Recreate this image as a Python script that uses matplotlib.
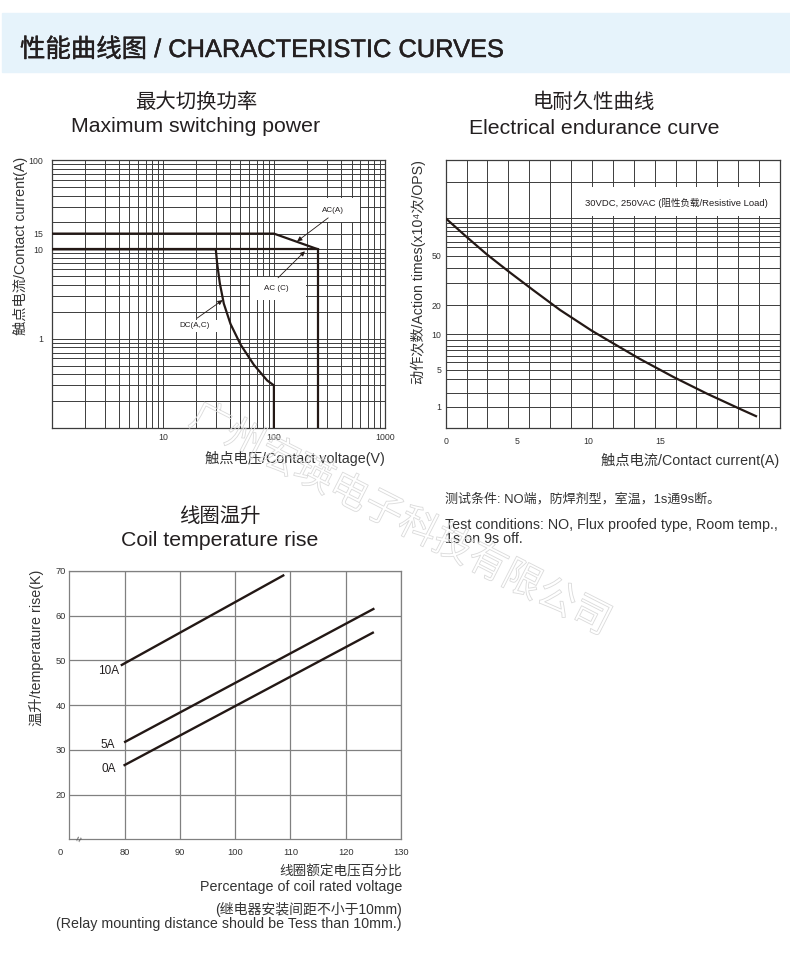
import numpy as np
import matplotlib
matplotlib.use('Agg')
import matplotlib.pyplot as plt
import matplotlib.ticker as ticker
import matplotlib.patheffects as pe
from matplotlib.patches import Rectangle

# =================================================================
# DATA
# =================================================================
# maximum switching power: contact voltage (V) / contact current (A)
AC_A_V = [1, 100, 250]
AC_A_I = [15, 15, 10]
AC_C_V = [1, 250, 250]
AC_C_I = [10, 10, 0.1]
DC_V = [1, 30, 30.8, 32.6, 35.4, 40.7, 50.1, 66.0, 87.1, 100, 100]
DC_I = [10, 10, 7.05, 4.17, 2.47, 1.46, 0.86, 0.51, 0.34, 0.3, 0.1]
SW_XTICKS = [10, 100, 1000]
SW_YTICKS = [1, 10, 15, 100]

# electrical endurance: contact current (A) / action times (x10^4)
END_I = [0, 1.47, 2.89, 4.5, 6.11, 8.0, 10.22, 11.66, 13.6, 15.94, 18.27, 20.6, 21.72]
END_N = [100, 70.9, 51.4, 36.7, 26.5, 17.8, 10.9, 8.48, 6.19, 3.68, 1.78, 0.91, 0.67]
# the printed y axis is not a true log axis: value -> height on the axis
END_SCALE_VAL = [0.4, 1, 5, 10, 20, 50, 100, 200, 300]
END_SCALE_POS = [0, 0.0805, 0.2173, 0.3503, 0.4595, 0.6422, 0.7827, 0.9191, 1.0]
END_YTICKS = [1, 5, 10, 20, 50]
END_YGRID = [1.8, 3.4, 5.8, 6.6, 7.4, 8, 9, 30, 40, 59, 65, 72, 79, 85, 92, 100, 200]
END_XTICKS = [0, 5, 10, 15]
END_XMAX = 23.4

# coil temperature rise: % of rated coil voltage / rise (K)
COIL_LABELS = ['10A', '5A', '0A']
COIL_V = [[79.5, 108.7], [80.1, 125.0], [80.0, 124.9]]
COIL_T = [[49.0, 69.0], [31.8, 61.5], [26.6, 56.2]]
COIL_LABEL_XY = [(77.05, 47.6), (76.9, 31.0), (77.2, 25.65)]
COIL_XTICKS = [80, 90, 100, 110, 120, 130]
COIL_YTICKS = [20, 30, 40, 50, 60, 70]

# =================================================================
# LAYOUT HELPERS (pixel positions on a 790x977 canvas)
# =================================================================
W, H = 790, 977
plt.rcParams['font.family'] = ['Liberation Sans', 'Noto Sans CJK SC', 'DejaVu Sans']
TXT = '#231f20'
LAB = '#333333'

fig = plt.figure(figsize=(W / 100, H / 100), dpi=100)


def fpx(x, y):
    return x / W, 1 - y / H


def add_ax(l, t, r, b):
    return fig.add_axes([l / W, 1 - b / H, (r - l) / W, (b - t) / H])


def ftext(x, y, s, size, **kw):
    kw.setdefault('ha', 'center')
    kw.setdefault('va', 'center')
    return fig.text(*fpx(x, y), s, fontsize=size, color=kw.pop('color', TXT), **kw)


# header band
fig.patches.append(Rectangle((2 / W, 1 - 72 / H), 788 / W, 59 / H,
                             transform=fig.transFigure, color='#e6f3fb', zorder=0))
ftext(20, 50, '性能曲线图 / CHARACTERISTIC CURVES', 18.3, ha='left',
      path_effects=[pe.withStroke(linewidth=0.3, foreground=TXT)])

# =================================================================
# 1. MAXIMUM SWITCHING POWER
# =================================================================
ax1 = add_ax(51.7, 160, 385, 428)
ax1.set_xscale('log')
ax1.set_yscale('log')
ax1.set_xlim(1, 1000)
ax1.set_ylim(0.1, 100)
ax1.set_axisbelow(True)
ax1.set_xticks(SW_XTICKS)
ax1.set_xticklabels([str(v) for v in SW_XTICKS])
ax1.set_yticks(SW_YTICKS)
ax1.set_yticklabels([str(v) for v in SW_YTICKS])
ax1.xaxis.set_minor_locator(ticker.LogLocator(subs=np.arange(2, 10)))
ax1.yaxis.set_minor_locator(ticker.LogLocator(subs=np.arange(2, 10)))
ax1.xaxis.set_minor_formatter(ticker.NullFormatter())
ax1.yaxis.set_minor_formatter(ticker.NullFormatter())
ax1.grid(which='both', color='#3c3c3c', lw=0.7)
ax1.tick_params(which='both', length=0, labelsize=6.3, labelcolor=LAB)
ax1.tick_params(axis='x', pad=3.5)
ax1.tick_params(axis='y', pad=6)
for sp in ax1.spines.values():
    sp.set_color('#3c3c3c')
    sp.set_linewidth(0.9)

ax1.plot(AC_A_V, AC_A_I, color='#231815', lw=1.6, zorder=3)
ax1.plot(AC_C_V, AC_C_I, color='#231815', lw=1.6, zorder=3)
ax1.plot(DC_V, DC_I, color='#231815', lw=1.6, zorder=3)

# white label boxes over the grid
for x0, y0, w, h in [(0.769, 0.77, 0.155, 0.09), (0.595, 0.478, 0.168, 0.085),
                     (0.364, 0.358, 0.132, 0.045)]:
    ax1.add_patch(Rectangle((x0, y0), w, h, transform=ax1.transAxes,
                            facecolor='white', edgecolor='none', zorder=1))

arrow = dict(arrowstyle='-|>', color='#231815', lw=0.6, mutation_scale=7,
             shrinkA=0, shrinkB=0)
ax1.annotate('', xy=(162, 12.3), xytext=(308, 22.5), arrowprops=arrow, zorder=4)
ax1.text(342, 27.1, 'AC(A)', fontsize=5.8, ha='center', va='center', color=TXT, zorder=4)
ax1.annotate('', xy=(190, 9.5), xytext=(109, 4.8), arrowprops=arrow, zorder=4)
ax1.text(106, 3.66, 'AC (C)', fontsize=5.8, ha='center', va='center', color=TXT, zorder=4)
ax1.annotate('', xy=(34.5, 2.7), xytext=(20.4, 1.7), arrowprops=arrow, zorder=4)
ax1.text(19.5, 1.39, 'DC(A,C)', fontsize=5.8, ha='center', va='center', color=TXT, zorder=4)

ftext(196, 102, '最大切换功率', 14.7)
ftext(196, 127, 'Maximum switching power', 15.3)
ftext(385, 458, '触点电压/Contact voltage(V)', 10.3, ha='right', color=LAB)
ftext(20, 157, '触点电流/Contact current(A)', 10.3, rotation=90, va='top', color=LAB)

# =================================================================
# 2. ELECTRICAL ENDURANCE
# =================================================================
log_vals = np.log10(END_SCALE_VAL)


def end_fwd(v):
    return np.interp(np.log10(np.clip(v, 1e-3, None)), log_vals, END_SCALE_POS)


def end_inv(p):
    return 10 ** np.interp(p, END_SCALE_POS, log_vals)


ax2 = add_ax(445.7, 160, 780, 428.3)
ax2.set_yscale('function', functions=(end_fwd, end_inv))
ax2.set_xlim(0, END_XMAX)
ax2.set_ylim(END_SCALE_VAL[0], END_SCALE_VAL[-1])
ax2.set_axisbelow(True)
ax2.set_xticks(END_XTICKS)
ax2.set_xticklabels([str(v) for v in END_XTICKS])
ax2.set_xticks(np.linspace(0, END_XMAX, 17), minor=True)
ax2.set_yticks(END_YTICKS)
ax2.set_yticklabels([str(v) for v in END_YTICKS])
ax2.set_yticks(END_YGRID, minor=True)
ax2.yaxis.set_minor_formatter(ticker.NullFormatter())
ax2.xaxis.set_minor_formatter(ticker.NullFormatter())
ax2.grid(which='minor', axis='x', color='#3c3c3c', lw=0.7)
ax2.grid(which='both', axis='y', color='#3c3c3c', lw=0.7)
ax2.tick_params(which='both', length=0, labelsize=6.3, labelcolor=LAB)
ax2.tick_params(axis='x', pad=6)
ax2.tick_params(axis='y', pad=3)
for sp in ax2.spines.values():
    sp.set_color('#3c3c3c')
    sp.set_linewidth(0.9)

ax2.plot(END_I, END_N, color='#231815', lw=1.6, zorder=3)
ax2.add_patch(Rectangle((0.381, 0.791), 0.62, 0.108, transform=ax2.transAxes,
                        facecolor='white', edgecolor='none', zorder=1))
ax2.text(0.689, 0.841, '30VDC, 250VAC (阻性负载/Resistive Load)', fontsize=6.8,
         transform=ax2.transAxes, ha='center', va='center', color=TXT, zorder=4)

ftext(594, 102, '电耐久性曲线', 14.7)
ftext(594, 128, 'Electrical endurance curve', 15.3)
ftext(779, 460, '触点电流/Contact current(A)', 10.3, ha='right', color=LAB)
ftext(418, 160, '动作次数/Action times(x10⁴次/OPS)', 10.2, rotation=90, va='top',
      color=LAB)

ftext(445, 499, '测试条件: NO端，防焊剂型，室温，1s通9s断。', 9.4, ha='left', color=LAB)
ftext(445, 525, 'Test conditions: NO, Flux proofed type, Room temp.,', 10.3, ha='left',
      color=LAB)
ftext(445, 539, '1s on 9s off.', 10.3, ha='left', color=LAB)

# =================================================================
# 3. COIL TEMPERATURE RISE
# =================================================================
ax3 = add_ax(69.3, 571, 401, 839.3)
ax3.set_xlim(70, 130)
ax3.set_ylim(10, 70)
ax3.set_axisbelow(True)
ax3.set_xticks(COIL_XTICKS)
ax3.set_yticks(COIL_YTICKS)
ax3.grid(color='#808080', lw=0.9)
ax3.tick_params(length=0, labelsize=6.7, labelcolor=LAB)
ax3.tick_params(axis='x', pad=6.5)
ax3.tick_params(axis='y', pad=2.5)
for sp in ax3.spines.values():
    sp.set_color('#808080')
    sp.set_linewidth(0.9)

for xs, ys, lab, lxy in zip(COIL_V, COIL_T, COIL_LABELS, COIL_LABEL_XY):
    ax3.plot(xs, ys, color='#231815', lw=1.7, zorder=3)
    ax3.text(*lxy, lab, fontsize=8.5, ha='center', va='center', color=TXT)

# broken-axis "0" and the break mark
ax3.annotate('0', xy=(70, 10), xytext=(-9, -13.5), textcoords='offset pixels',
             fontsize=6.7, ha='center', va='center', color=LAB)
ax3.text(71.9, 10.1, '≈', fontsize=7, rotation=70, ha='center', va='center',
         color='#555555')

ftext(220, 516, '线圈温升', 14.7)
ftext(220, 540, 'Coil temperature rise', 15.3)
ftext(37, 570, '温升/temperature rise(K)', 10.3, rotation=90, va='top', color=LAB)
ftext(402, 871, '线圈额定电压百分比', 9.8, ha='right', color=LAB)
ftext(402, 887, 'Percentage of coil rated voltage', 10.3, ha='right', color=LAB)
ftext(402, 909, '(继电器安装间距不小于10mm)', 10, ha='right', color=LAB)
ftext(402, 924, '(Relay mounting distance should be Tess than 10mm.)', 10.3, ha='right',
      color=LAB)

# faint outlined watermark
fig.text(*fpx(400, 520), '广州宏瑛电子科技有限公司', fontsize=28, rotation=-27,
         ha='center', va='center', color='none', zorder=10,
         path_effects=[pe.Stroke(linewidth=0.6, foreground='#dadada')])

fig.savefig('out.png', dpi=100, facecolor='white')
